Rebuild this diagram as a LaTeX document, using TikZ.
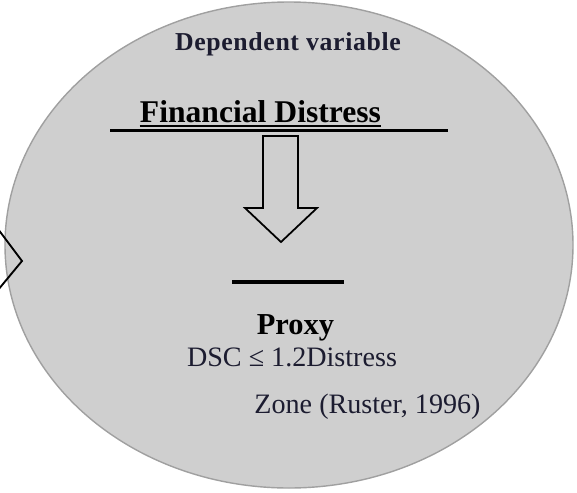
\documentclass[tikz,border=0pt]{standalone}
\usepackage{fontspec}
\setmainfont{Liberation Serif}
\usepackage{tikz}
\usepackage{xcolor}
\definecolor{dvgray}{HTML}{CFCFCF}
\definecolor{dvedge}{HTML}{A0A0A0}
\definecolor{dvink}{HTML}{1C1C30}

\begin{document}
\begin{tikzpicture}[x=0.03cm, y=-0.03cm,
    every node/.style={inner sep=0pt, anchor=base},
    heading/.style={font=\fontsize{22}{24}\selectfont\bfseries\addfontfeature{LetterSpace=2.5}, text=dvink},
    title/.style={font=\fontsize{27}{30}\selectfont\bfseries},
    plain/.style={font=\fontsize{24}{27}\selectfont, text=dvink},
    rule/.style={line width=2.8pt},
    blockarrow/.style={line width=1.5pt, fill=dvgray, line join=miter}
  ]
    \useasboundingbox (0,0) rectangle (577,492);
    \begin{scope}
      \clip (0,0) rectangle (577,492);
      \draw[fill=dvgray, draw=dvedge, line width=1.2pt] (289,245) ellipse [x radius=284, y radius=243];
      \draw[line width=1.6pt, line join=miter] (-2,229) -- (22,261) -- (-2,290);
    \end{scope}

    \node[heading] (dep) at (288,50) {Dependent variable};
    \node[title] (fin) at (260.5,122.7) {Financial Distress};
    \draw[line width=1.7pt] ([yshift=-3pt]fin.base west) -- ([yshift=-3pt]fin.base east);
    \draw[rule] (110,130.5) -- (448,130.5);

    \draw[blockarrow] (263,136) -- (298,136) -- (298,208) -- (317,208)
      -- (281,242) -- (245,208) -- (263,208) -- cycle;

    \draw[rule] (232,282) -- (344,282);
    \node[title, font=\fontsize{26}{29}\selectfont\bfseries] (proxy) at (295.5,334) {Proxy};
    \node[plain] (dsc) at (292,366) {DSC ≤ 1.2Distress};
    \node[plain] (zone) at (367.5,413) {Zone (Ruster, 1996)};
  \end{tikzpicture}
\end{document}
